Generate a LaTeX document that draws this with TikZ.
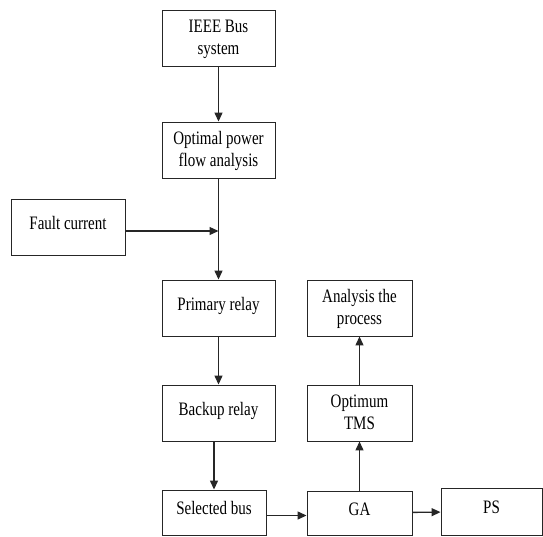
\documentclass[tikz,border=0pt]{standalone}
\usepackage{fontspec}
\setmainfont[FakeStretch=0.79]{Liberation Serif}
\usetikzlibrary{arrows.meta}
\begin{document}
\begin{tikzpicture}[x=1pt,y=-1pt,
  box/.style={draw=black!85, line width=0.9pt, inner sep=0pt, align=center,
    font=\fontsize{19}{22}\selectfont},
  oneline/.style={text height=13pt, text depth=9pt},
  twoline/.style={text height=36pt, text depth=4pt},
  arr/.style={draw=black!85, line width=1.3pt, -{Triangle[length=9pt,width=8pt]}}]
\useasboundingbox (0,0) rectangle (543,536);

% main column
\node[box, twoline, minimum width=113pt, minimum height=56pt] (ieee)    at (218.5,38)  {IEEE Bus\\system};
\node[box, twoline, minimum width=113pt, minimum height=56pt] (opf)     at (218.5,150) {Optimal power\\flow analysis};
\node[box, oneline, minimum width=114pt, minimum height=56pt] (fault)   at (68,227)    {Fault current};
\node[box, oneline, minimum width=113pt, minimum height=56pt] (primary) at (218.5,308) {Primary relay};
\node[box, oneline, minimum width=113pt, minimum height=56pt] (backup)  at (218.5,413) {Backup relay};
\node[box, oneline, minimum width=104pt, minimum height=45pt] (sel)     at (214,512.5) {Selected bus};

% right branch
\node[box, oneline, minimum width=105pt, minimum height=44pt] (ga)       at (359.5,513)   {GA};
\node[box, oneline, minimum width=101pt, minimum height=47pt] (ps)       at (491.5,511.5) {PS};
\node[box, twoline, minimum width=105pt, minimum height=56pt] (tms)      at (359.5,413)   {Optimum\\TMS};
\node[box, twoline, minimum width=105pt, minimum height=56pt] (analysis) at (359.5,308)   {Analysis the\\process};

% connectors
\coordinate (fj) at (218.5,231);
\draw[arr] (ieee) -- (opf);
\draw[arr] (opf) -- (primary);
\draw[arr] (fault.east |- fj) -- (fj);
\draw[arr] (primary) -- (backup);
\draw[arr] (sel.north |- backup.south) -- (sel.north);
\draw[arr] ([yshift=-3pt]sel.east) -- ([yshift=-3pt]sel.east -| ga.west);
\draw[arr] (ga) -- (ps);
\draw[arr] (ga) -- (tms);
\draw[arr] (tms) -- (analysis);
\end{tikzpicture}
\end{document}
